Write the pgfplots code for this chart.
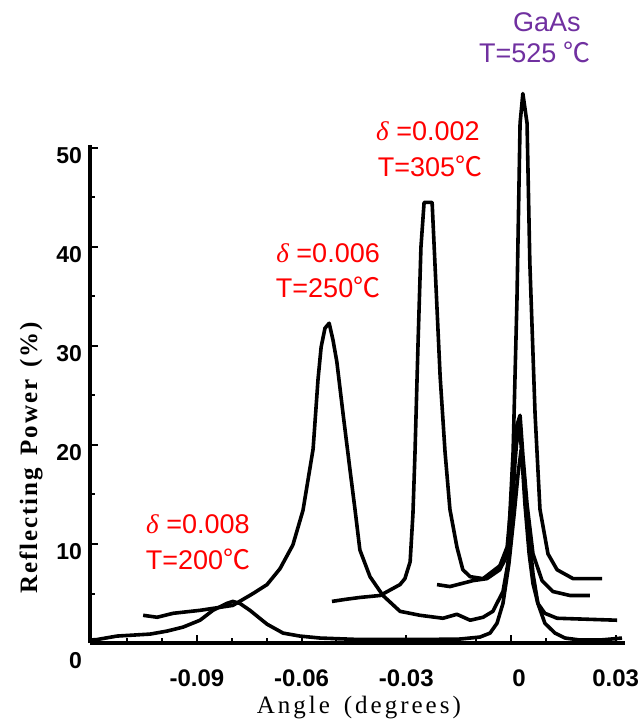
\documentclass[border=0pt]{standalone}
\usepackage{pgfplots}
\pgfplotsset{compat=1.18}
\usepackage{fontspec}
\setmainfont{Liberation Sans}
\newfontfamily\serif{Liberation Serif}
\newfontfamily\xlblfont[LetterSpace=12]{Liberation Serif}
\newfontfamily\ylblfont[LetterSpace=8]{Liberation Serif}
\newfontfamily\cjk{Noto Sans CJK SC}
\definecolor{ann}{RGB}{255,0,0}
\definecolor{gaas}{RGB}{112,48,160}
\newcommand{\dg}{{\cjk ℃}}
\newcommand{\dl}{{\serif\itshape δ}}
\begin{document}
\begin{tikzpicture}
\useasboundingbox (-511pt,-80pt) rectangle (130pt,643pt);
\begin{axis}[
  at={(0pt,0pt)}, anchor=origin,
  x=3490pt, y=9.9pt,
  xmin=-0.1206, xmax=0.0327, ymin=0, ymax=50.3,
  axis x line=bottom, axis y line=left,
  axis line style={-, line width=3.4pt, black},
  clip=false,
  xtick={-0.09,-0.06,-0.03,0,0.03},
  xticklabels={-0.09,-0.06,-0.03,\hspace*{16pt}0,0.03},
  minor xtick={-0.11,-0.1,-0.08,-0.07,-0.05,-0.04,-0.02,-0.01,0.01,0.02},
  ytick={0,10,20,30,40,50},
  yticklabels={\raisebox{-9pt}{0},10,20,30,40,50},
  minor ytick={5,15,25,35,45},
  tick align=inside,
  major tick length=8pt, minor tick length=5pt,
  every tick/.style={line width=2pt, black},
  /pgf/number format/assume math mode=true,
  xticklabel style={font=\bfseries\fontsize{24}{26}\selectfont, anchor=base, inner sep=0pt, yshift=-43pt},
  yticklabel style={font=\bfseries\fontsize{23}{25}\selectfont, anchor=base east, inner sep=0pt, xshift=-8pt, yshift=-16pt},
  xlabel={Angle\hspace{14pt}(degrees)},
  xlabel style={at={(axis description cs:0.5023,-0.1406)}, anchor=base, inner sep=0pt, font=\xlblfont\fontsize{25}{28}\selectfont},
  ylabel={Reflecting\hspace{12pt}Power\hspace{12pt}(\%)},
  ylabel style={at={(axis description cs:-0.0992,0.3716)}, anchor=base, inner sep=0pt, font=\ylblfont\bfseries\fontsize{25}{28}\selectfont},
]
% delta = 0.008, T = 200 C
\addplot[black, line width=3.6pt, line join=round] coordinates {
(-0.1206,0.3) (-0.1186,0.35) (-0.1129,0.7) (-0.1034,0.9) (-0.0986,1.2) (-0.0940,1.6)
(-0.0891,2.3) (-0.0854,3.3) (-0.0814,4.0) (-0.0797,4.2) (-0.0777,4.0) (-0.0748,3.3)
(-0.0699,1.9) (-0.0653,1.0) (-0.0605,0.7) (-0.0547,0.5) (-0.0433,0.35) (-0.0261,0.35)
(-0.0146,0.4) (-0.0089,0.6) (-0.0060,1.0) (-0.0040,2.0) (-0.0023,4) (-0.0006,8)
(0.0009,13) (0.0020,17) (0.0029,19.5) (0.0037,17) (0.0049,12) (0.0063,7) (0.0077,4)
(0.0097,2) (0.0126,1.0) (0.0155,0.5) (0.0198,0.3) (0.0255,0.3) (0.0318,0.5)
};
% delta = 0.006, T = 250 C
\addplot[black, line width=3.6pt, line join=round] coordinates {
(-0.1054,2.8) (-0.1014,2.6) (-0.0968,3.0) (-0.0891,3.3) (-0.0797,3.8) (-0.0739,5.0)
(-0.0699,5.9) (-0.0662,7.5) (-0.0625,9.9) (-0.0596,13.4) (-0.0567,19.6) (-0.0553,26.6)
(-0.0544,29.9) (-0.0533,31.8) (-0.0521,32.3) (-0.0510,30.6) (-0.0499,28.4) (-0.0481,23.1)
(-0.0461,17.4) (-0.0447,13.5) (-0.0433,9.4) (-0.0404,6.7) (-0.0367,4.8) (-0.0318,3.2)
(-0.0261,2.8) (-0.0195,2.5) (-0.0155,2.9) (-0.0117,2.3) (-0.0080,2.6) (-0.0052,3.2)
(-0.0023,5.2) (-0.0009,8) (0.0003,13) (0.0011,18) (0.0020,22) (0.0029,20) (0.0040,14)
(0.0052,9) (0.0063,6) (0.0077,4) (0.0097,3) (0.0132,2.5) (0.0304,2.3)
};
% delta = 0.002, T = 305 C
\addplot[black, line width=3.6pt, line join=round] coordinates {
(-0.0513,4.2) (-0.0476,4.4) (-0.0433,4.6) (-0.0375,4.8) (-0.0318,5.9) (-0.0304,6.5)
(-0.0289,8.2) (-0.0281,13) (-0.0275,19.3) (-0.0266,30.7) (-0.0258,40) (-0.0249,44.5)
(-0.0226,44.5) (-0.0218,38.4) (-0.0203,26.9) (-0.0189,19.3) (-0.0175,13.5) (-0.0155,9.7)
(-0.0138,7.4) (-0.0117,6.7) (-0.0080,6.5) (-0.0032,7.8) (-0.0011,9.7) (0,14) (0.0009,19)
(0.0017,22) (0.0026,23) (0.0034,19) (0.0046,14) (0.0063,9) (0.0089,6.3) (0.0120,5.2)
(0.0169,4.8) (0.0226,4.8)
};
% GaAs, T = 525 C
\addplot[black, line width=3.6pt, line join=round] coordinates {
(-0.0212,5.9) (-0.0175,5.7) (-0.0109,6.3) (-0.0069,6.5) (-0.0032,7.4) (-0.0009,9.0)
(0.0006,19.3) (0.0017,34.5) (0.0026,52.5) (0.0034,55.5) (0.0046,52.5) (0.0054,38.4)
(0.0069,23.1) (0.0083,13.5) (0.0106,9.0) (0.0132,7.4) (0.0178,6.5) (0.0261,6.5)
};
\node[anchor=base, inner sep=0pt, text=ann, font=\fontsize{27}{30}\selectfont] at (axis cs:-0.0897,11.11) {\dl\ =0.008};
\node[anchor=base, inner sep=0pt, text=ann, font=\fontsize{27}{30}\selectfont] at (axis cs:-0.0897,7.47) {T=200\dg};
\node[anchor=base, inner sep=0pt, text=ann, font=\fontsize{27}{30}\selectfont] at (axis cs:-0.0524,38.48) {\dl\ =0.006};
\node[anchor=base, inner sep=0pt, text=ann, font=\fontsize{27}{30}\selectfont] at (axis cs:-0.0524,34.85) {T=250\dg};
\node[anchor=base, inner sep=0pt, text=ann, font=\fontsize{27}{30}\selectfont] at (axis cs:-0.0238,50.71) {\dl\ =0.002};
\node[anchor=base, inner sep=0pt, text=ann, font=\fontsize{27}{30}\selectfont] at (axis cs:-0.0232,47.07) {T=305\dg};
\node[anchor=base, inner sep=0pt, text=gaas, font=\fontsize{27}{30}\selectfont] at (axis cs:0.0103,61.72) {GaAs};
\node[anchor=base, inner sep=0pt, text=gaas, font=\fontsize{27}{30}\selectfont] at (axis cs:0.0069,58.59) {T=525 \dg};
\end{axis}
\end{tikzpicture}
\end{document}
